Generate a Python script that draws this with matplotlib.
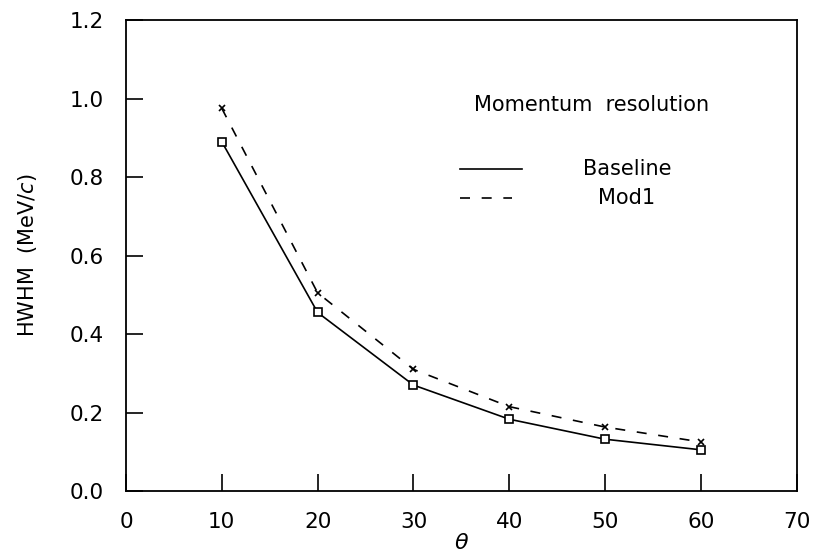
import matplotlib
matplotlib.use("Agg")
import matplotlib.pyplot as plt
from matplotlib.lines import Line2D

theta = [10, 20, 30, 40, 50, 60]
baseline = [0.89, 0.455, 0.27, 0.183, 0.132, 0.105]
mod1 = [0.975, 0.505, 0.31, 0.215, 0.163, 0.125]

xticks = [0, 10, 20, 30, 40, 50, 60, 70]
yticks = [0.0, 0.2, 0.4, 0.6, 0.8, 1.0, 1.2]

plt.rcParams['font.family'] = ['DejaVu Sans']

fig = plt.figure(figsize=(8.18, 5.59), dpi=100)
ax = fig.add_axes([0.154, 0.1216, 0.820, 0.8425])

ax.plot(theta, baseline, color='black', lw=1.2, ls='-',
        marker='s', ms=6, mfc='white', mec='black', mew=1.2)
ax.plot(theta, mod1, color='black', lw=1.2, ls=(0, (6, 7)),
        marker='x', ms=5, mec='black', mew=1.2)

ax.set_xlim(0, 70)
ax.set_ylim(0, 1.2)
ax.set_xticks(xticks)
ax.set_yticks(yticks)
ax.set_yticklabels([f'{v:.1f}' for v in yticks])
ax.tick_params(direction='in', length=12, width=1.2, labelsize=15.5,
               top=False, right=False)
ax.tick_params(axis='y', pad=16)
ax.tick_params(axis='x', pad=15)
for s in ax.spines.values():
    s.set_linewidth(1.3)

ax.set_xlabel(r'$\theta$', fontsize=16)
ax.xaxis.set_label_coords(0.5, -0.09)
ax.set_ylabel(r'HWHM  (MeV/$c$)', fontsize=15)
ax.yaxis.set_label_coords(-0.13, 0.5)

# legend drawn by hand to match the original layout
ax.text(0.694, 0.82, 'Momentum  resolution', transform=ax.transAxes,
        fontsize=15, ha='center', va='center')
ax.add_line(Line2D([0.498, 0.59], [0.684, 0.684], transform=ax.transAxes,
                   color='black', lw=1.2))
ax.add_line(Line2D([0.498, 0.575], [0.622, 0.622], transform=ax.transAxes,
                   color='black', lw=1.2, ls=(0, (6, 7))))
ax.text(0.747, 0.684, 'Baseline', transform=ax.transAxes,
        fontsize=15, ha='center', va='center')
ax.text(0.747, 0.622, 'Mod1', transform=ax.transAxes,
        fontsize=15, ha='center', va='center')

fig.savefig('out.png', dpi=100)
